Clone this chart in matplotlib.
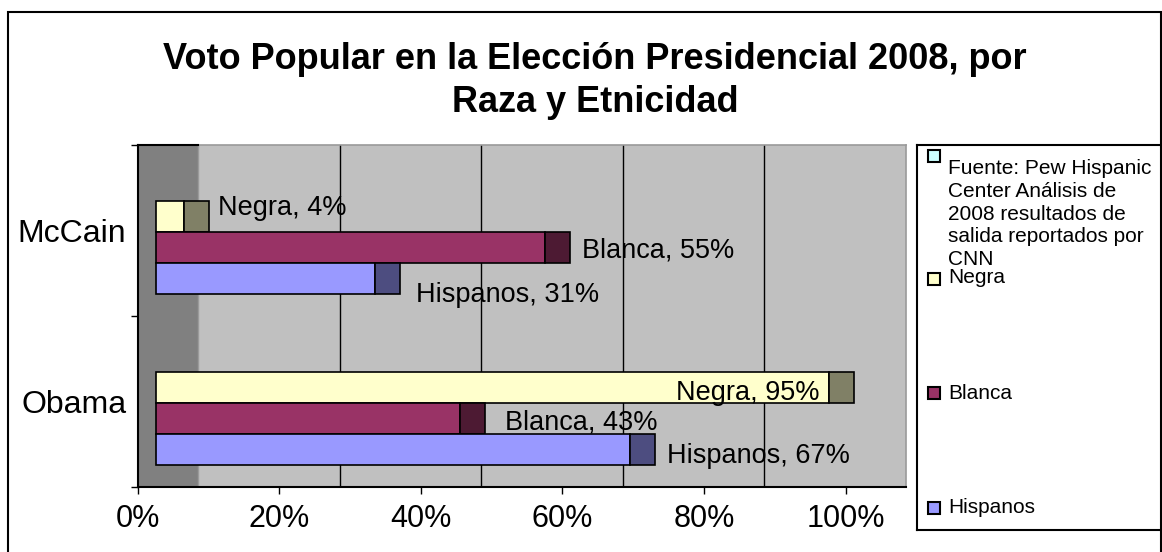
import matplotlib
matplotlib.use('Agg')
import matplotlib.pyplot as plt
from matplotlib.patches import Rectangle

plt.rcParams['font.family'] = ['Liberation Sans', 'DejaVu Sans']

# ---------------- data ----------------
title = 'Voto Popular en la Elección Presidencial 2008, por\nRaza y Etnicidad'
candidates = ['Obama', 'McCain']
groups = ['Negra', 'Blanca', 'Hispanos']
obama = [95, 43, 67]
mccain = [4, 55, 31]
xtick_values = [0, 20, 40, 60, 80, 100]
xtick_labels = ['0%', '20%', '40%', '60%', '80%', '100%']
source_label = 'Fuente: Pew Hispanic\nCenter Análisis de\n2008 resultados de\nsalida reportados por\nCNN'

values = {'Obama': obama, 'McCain': mccain}

# ---------------- style ----------------
front_colors = {'Negra': '#FFFFCC', 'Blanca': '#993366', 'Hispanos': '#9999FF'}
side_colors = {'Negra': '#808066', 'Blanca': '#4D1A33', 'Hispanos': '#4D4D80'}
source_color = '#CCFFFF'

W, H = 1162, 552
PX = 7.08                      # pixels per percent
x0_px, x1_px = 137.5, 906
y_top_px, y_bot_px = 145, 487
xmax = (x1_px - x0_px) / PX
depth = (198 - x0_px) / PX     # back wall offset (3D look)
bar_left = (156 - x0_px) / PX  # bar front offset
side_w = 25 / PX               # visible bar side face
unit_px = (y_bot_px - y_top_px) / 2
bar_h = 31 / unit_px
group_shift = -16.5 / unit_px
slot = {'Negra': 1, 'Blanca': 0, 'Hispanos': -1}

# label placement (dx px from bar end, baseline dy px below bar centre, inside?)
label_style = {
    ('McCain', 'Negra'): (9, -1, False),
    ('McCain', 'Blanca'): (12, 10.5, False),
    ('McCain', 'Hispanos'): (16, 23.5, False),
    ('Obama', 'Negra'): (-9, 12.5, True),
    ('Obama', 'Blanca'): (20, 11.5, False),
    ('Obama', 'Hispanos'): (12, 14, False),
}

fig = plt.figure(figsize=(W / 100, H / 100), dpi=100)
ax = fig.add_axes([x0_px / W, (H - y_bot_px) / H,
                   (x1_px - x0_px) / W, (y_bot_px - y_top_px) / H])
ax.set_xlim(0, xmax)
ax.set_ylim(0, 2)
ax.set_facecolor('#C0C0C0')
ax.axvspan(0, depth, color='#808080', lw=0, zorder=0.5)
ax.axvline(depth, color='#9A9A9A', lw=1, zorder=0.6)
for v in xtick_values[1:-1]:
    ax.axvline(depth + v, color='black', lw=1, zorder=1)

for ci, cand in enumerate(candidates):
    centre = ci + 0.5 + group_shift
    for g, v in zip(groups, values[cand]):
        y = centre + slot[g] * bar_h
        ax.barh(y, v, left=bar_left, height=bar_h, color=front_colors[g],
                edgecolor='black', lw=1.2, zorder=3)
        ax.barh(y, side_w, left=bar_left + v, height=bar_h, color=side_colors[g],
                edgecolor='black', lw=1.2, zorder=3)
        dx, dy, inside = label_style[(cand, g)]
        if inside:
            ax.annotate(f'{g}, {v}%', xy=(bar_left + v, y),
                        xytext=(dx * 0.72, -dy * 0.72), textcoords='offset points',
                        ha='right', va='baseline', fontsize=19.5, zorder=5)
        else:
            ax.annotate(f'{g}, {v}%', xy=(bar_left + v + side_w, y),
                        xytext=(dx * 0.72, -dy * 0.72), textcoords='offset points',
                        ha='left', va='baseline', fontsize=19.5, zorder=5)

for s in ['left', 'bottom']:
    ax.spines[s].set_color('black')
    ax.spines[s].set_linewidth(1.5)
for s in ['top', 'right']:
    ax.spines[s].set_color('#9A9A9A')
    ax.spines[s].set_linewidth(1.2)
ax.plot([0, depth], [2, 2], color='black', lw=1.5, clip_on=False, zorder=6)

ax.set_xticks(xtick_values, xtick_labels)
ax.tick_params(axis='x', direction='out', length=5, width=1, pad=7, labelsize=22)
ax.set_yticks([0, 1, 2], ['', '', ''])
ax.set_yticks([0.5, 1.5], candidates, minor=True)
ax.tick_params(axis='y', which='major', direction='out', length=5, width=1)
ax.tick_params(axis='y', which='minor', length=0, pad=8, labelsize=23)

# title
fig.text(595 / W, 1 - 112 / H, title, ha='center', va='baseline',
         fontsize=26, fontweight='bold', linespacing=1.3)

# outer frame
fig.patches.append(Rectangle((8 / W, -0.05), (1161 - 8) / W, 1 - 12 / H + 0.05,
                             transform=fig.transFigure, fill=False,
                             edgecolor='black', lw=1.5))

# legend (manual, Excel-style)
lax = fig.add_axes([917 / W, (H - 530) / H, (1162 - 917) / W, (530 - 145) / H])
lax.set_xlim(917, 1162)
lax.set_ylim(530, 145)
lax.set_xticks([])
lax.set_yticks([])
for s in lax.spines.values():
    s.set_linewidth(1.5)
    s.set_color('black')
legend_labels = [source_label] + groups
legend_colors = [source_color] + [front_colors[g] for g in groups]
square_top = [150, 273, 387, 502]
text_base = [265, 283.3, 399, 513]
for lab, col, sq, tb in zip(legend_labels, legend_colors, square_top, text_base):
    lax.add_patch(Rectangle((928, sq), 12, 12, facecolor=col,
                            edgecolor='black', lw=1.5))
    lax.text(948, tb, lab, ha='left', va='baseline', fontsize=15,
             linespacing=1.25)

fig.savefig('out.png', dpi=100)
